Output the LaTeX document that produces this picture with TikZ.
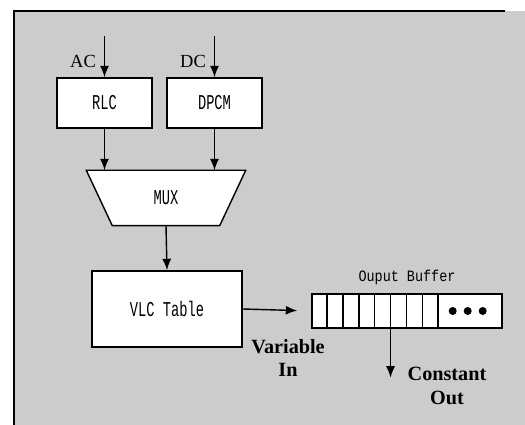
\documentclass[tikz,border=0pt]{standalone}
\usepackage{fontspec}
\setmainfont{Liberation Serif}
\newfontfamily\boxfont[FakeStretch=0.65]{Liberation Mono}
\newfontfamily\buffont[FakeStretch=0.85]{Liberation Mono}
\usetikzlibrary{arrows.meta,positioning,shapes.geometric,calc}
\usepackage{xcolor}

\begin{document}
\begin{tikzpicture}[
    blockbox/.style={draw, line width=0.8pt, fill=white, minimum width=1.9cm, minimum height=1.0cm, align=center, font=\boxfont\fontsize{12}{14}\selectfont},
    sig/.style={font=\fontsize{10.5}{12}\selectfont},
    bold/.style={font=\bfseries\fontsize{11.5}{13.5}\selectfont, align=center},
    arrow/.style={-{Latex[length=2.3mm,width=1.8mm]}, line width=0.8pt}
]
\useasboundingbox (0,0) rectangle (10.5,-8.5);

% background and frame
\fill[black!20] (0.28,-0.22) rectangle (10.5,-8.5);
\draw[line width=1.2pt] (10.1,-0.22) -- (0.28,-0.22) -- (0.28,-8.5);

\node[blockbox] (rlc) at (2.09,-2.06) {RLC};
\node[blockbox] (dpcm) at (4.29,-2.06) {DPCM};
\node[sig] (aclab) at (1.66,-1.22) {AC};
\node[sig] (dclab) at (3.86,-1.22) {DC};
\coordinate (acin) at ($(rlc.north)+(0,0.82)$);
\coordinate (dcin) at ($(dpcm.north)+(0,0.82)$);

% mux: trapezoid drawn around an empty-bordered node
\node[blockbox, draw=none, fill=none, minimum width=3.16cm, minimum height=1.08cm] (mux) at (3.32,-3.96) {};
\draw[line width=0.8pt, fill=white] (mux.north west) -- (mux.north east) -- ($(mux.south east)+(-0.52,0)$)
    -- ($(mux.south west)+(0.52,0)$) -- cycle;
\node[font=\boxfont\fontsize{12}{14}\selectfont] at (mux) {MUX};

\node[blockbox, minimum width=3.0cm, minimum height=1.52cm] (vlc) at (3.34,-6.18) {VLC Table};

\node[draw, line width=0.8pt, fill=white, minimum width=3.8cm, minimum height=0.68cm] (buf) at (8.14,-6.22) {};
\foreach \i in {1,...,8}
    \draw[line width=0.8pt] ($(buf.north west)+(\i*0.317,0)$) -- ($(buf.south west)+(\i*0.317,0)$);
\foreach \dx in {1.0,0.7,0.4}
    \fill ($(buf.east)+(-\dx,0)$) circle (0.08);
\node[font=\buffont\fontsize{9}{11}\selectfont] (buflab) at (8.14,-5.54) {Ouput Buffer};

\node[bold] (varlab) at (5.76,-7.16) {Variable\\In};
\node[bold] (constlab) at (8.94,-7.72) {Constant\\Out};

\draw[arrow] (acin) -- (rlc.north);
\draw[arrow] (dcin) -- (dpcm.north);
\draw[arrow] (rlc.south) -- (rlc.south |- mux.north);
\draw[arrow] (dpcm.south) -- (dpcm.south |- mux.north);
\draw[arrow] (mux.south) -- (vlc.north);
\draw[arrow, shorten >=0.28cm] (vlc.east) -- (buf.west);
\draw[arrow] ($(buf.south west)+(5*0.317,0)$) -- ++(0,-0.98);
\end{tikzpicture}
\end{document}
